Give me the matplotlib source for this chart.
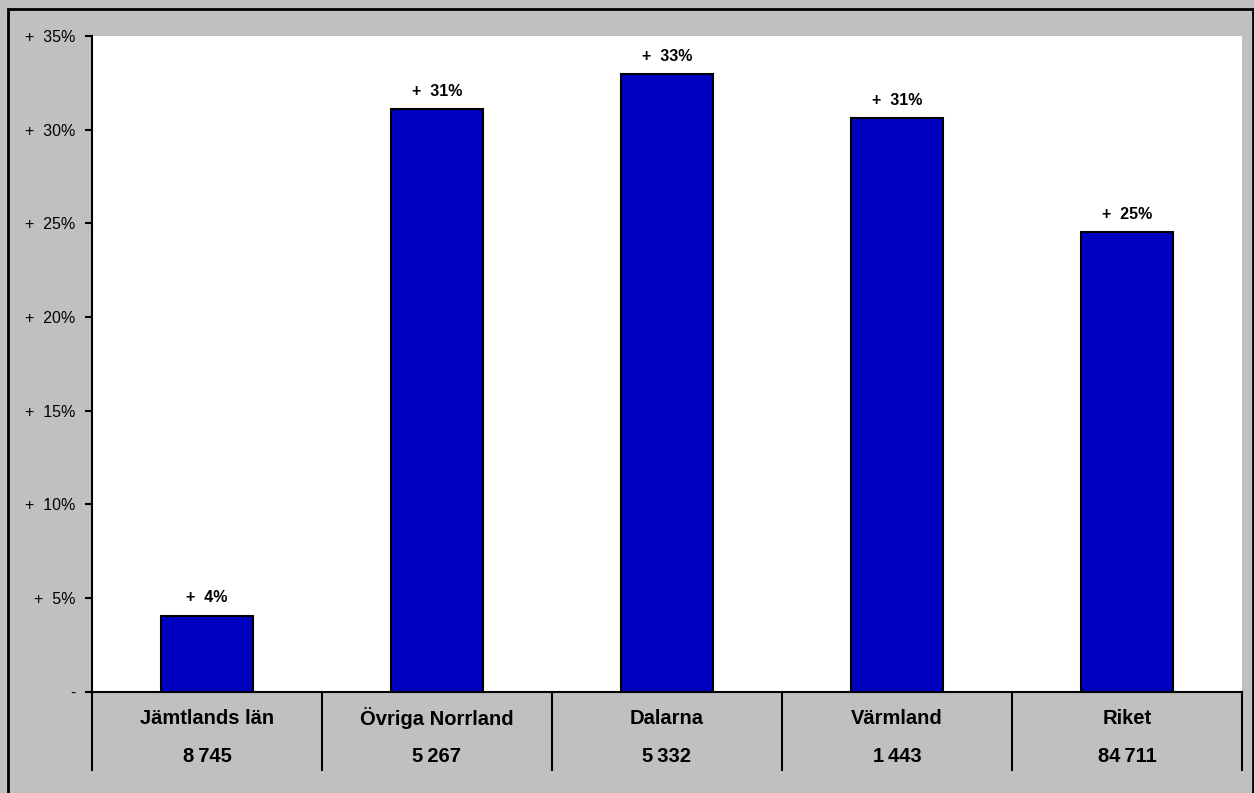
import matplotlib.pyplot as plt
from matplotlib.patches import Rectangle

plt.rcParams['font.family'] = ['Liberation Sans', 'DejaVu Sans']

# data
regions = ['Jämtlands län', 'Övriga Norrland', 'Dalarna', 'Värmland', 'Riket']
counts = ['8\u2009745', '5\u2009267', '5\u2009332', '1\u2009443', '84\u2009711']
change = [4.05, 31.1, 32.95, 30.62, 24.53]
yticks = [0, 5, 10, 15, 20, 25, 30, 35]

W, H = 1254, 793
fig = plt.figure(figsize=(W / 100, H / 100), dpi=100)
fig.patch.set_facecolor('#C0C0C0')

# outer frame (cut off at right/bottom like the original)
fig.patches.append(Rectangle((8 / W, -0.05), (1252.5 - 8) / W, 1.05 - 9 / H,
                             transform=fig.transFigure, fill=False,
                             edgecolor='black', linewidth=2))

left, right, top, bottom = 92, 1242, 36, 691.5
ax = fig.add_axes([left / W, (H - bottom) / H, (right - left) / W, (bottom - top) / H])
ax.set_facecolor('white')

x = range(len(regions))
ax.bar(x, change, width=0.4, color='#0000C0', edgecolor='black', linewidth=1.5, zorder=3)

for i, v in enumerate(change):
    ax.text(i, v + 0.55, '+  %d%%' % round(v), ha='center', va='bottom',
            fontsize=11.5, fontweight='bold')

ax.set_xlim(-0.5, len(regions) - 0.5)
ax.set_ylim(0, 35)
ax.set_yticks(yticks)
ax.set_yticklabels(['-'] + ['+  %d%%' % t for t in yticks[1:]], fontsize=11.5)
ax.set_xticks([])
ax.tick_params(axis='y', direction='out', length=5, width=1.5, pad=7)

for s in ['top', 'right']:
    ax.spines[s].set_visible(False)
ax.spines['left'].set_linewidth(1.5)
ax.spines['bottom'].set_linewidth(1.5)

# category table below the axis
sep_bottom = -(770 - bottom) / (bottom - top)
tr = ax.get_xaxis_transform()
for b in [i - 0.5 for i in range(len(regions) + 1)]:
    ax.plot([b, b], [0, sep_bottom], color='black', linewidth=1.5,
            transform=tr, clip_on=False)

name_y = -(718 - bottom) / (bottom - top)
num_y = -(757 - bottom) / (bottom - top)
for i, (r, c) in enumerate(zip(regions, counts)):
    ax.text(i, name_y, r, transform=tr, ha='center', va='center',
            fontsize=14.5, fontweight='bold')
    ax.text(i, num_y, c, transform=tr, ha='center', va='center',
            fontsize=14.5, fontweight='bold')

fig.savefig('out.png', dpi=100, facecolor=fig.get_facecolor())
